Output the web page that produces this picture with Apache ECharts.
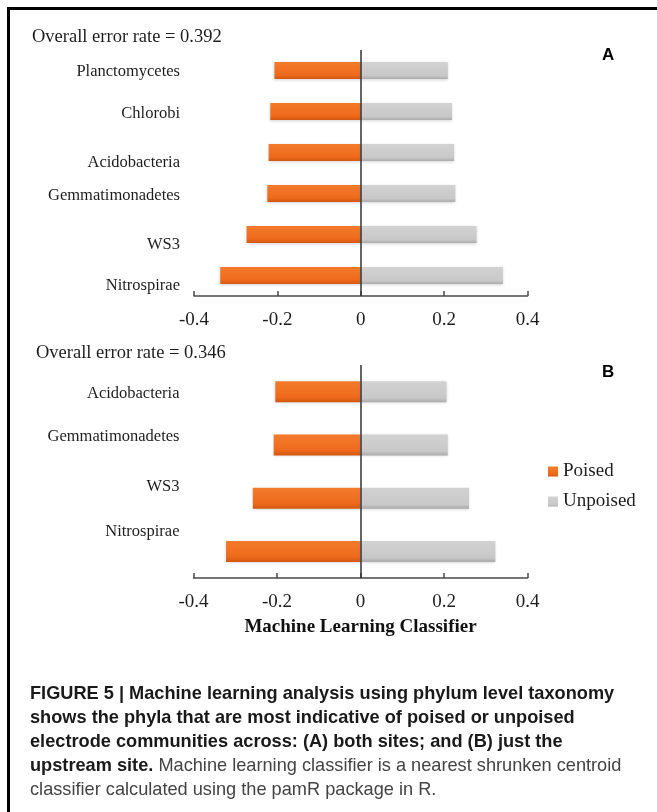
<!DOCTYPE html>
<html>
<head>
<meta charset="utf-8">
<script src="https://cdn.jsdelivr.net/npm/echarts@6/dist/echarts.min.js"></script>
<style>
  body { margin: 0; background: #fff; }
  .figure { position: relative; width: 657px; height: 812px; overflow: hidden; }
  #chart { position: absolute; left: 0; top: 0; width: 657px; height: 812px; }
  .frame { position: absolute; left: 7px; top: 7px; width: 700px; height: 900px; border-top: 3px solid #000; border-left: 3px solid #000; pointer-events: none; }
  .caption { position: absolute; left: 30px; top: 681px; font-family: "Liberation Sans", Arial, sans-serif; font-size: 18.2px; line-height: 24px; color: #444; white-space: nowrap; }
  .caption b { color: #1a1a1a; }
</style>
</head>
<body>
<div class="figure">
  <div id="chart"></div>
  <div class="frame"></div>
  <div class="caption">
    <b>FIGURE 5 | Machine learning analysis using phylum level taxonomy</b><br>
    <b>shows the phyla that are most indicative of poised or unpoised</b><br>
    <b>electrode communities across: (A) both sites; and (B) just the</b><br>
    <b>upstream site.</b> Machine learning classifier is a nearest shrunken centroid<br>
    classifier calculated using the pamR package in R.
  </div>
</div>
<script>
  // panel A: both sites
  const phylaA = ['Planctomycetes', 'Chlorobi', 'Acidobacteria', 'Gemmatimonadetes', 'WS3', 'Nitrospirae']
  const poisedA = [-0.207, -0.217, -0.221, -0.224, -0.274, -0.337]
  const unpoisedA = [0.209, 0.219, 0.224, 0.227, 0.278, 0.341]
  // panel B: upstream site
  const phylaB = ['Acidobacteria', 'Gemmatimonadetes', 'WS3', 'Nitrospirae']
  const poisedB = [-0.204, -0.208, -0.258, -0.322]
  const unpoisedB = [0.206, 0.209, 0.260, 0.323]
  const xTicks = [-0.4, -0.2, 0, 0.2, 0.4]
  const errorRates = ['0.392', '0.346']
  const seriesNames = ['Poised', 'Unpoised']

  // label drift of the original layout (px, + is down)
  const nudgeA = [1.5, 2, 10, 2, 10, 10]
  const nudgeB = [2, -8.5, -11, -20]

  const serif = '"Liberation Serif", "Times New Roman", serif'
  const ink = '#1e1e1e'

  function richFor (nudge) {
    const rich = {}
    nudge.forEach((d, i) => {
      rich['n' + i] = {
        fontFamily: serif,
        fontSize: 16.5,
        color: ink,
        padding: d >= 0 ? [2 * d, 0, 0, 0] : [0, 0, -2 * d, 0]
      }
    })
    return rich
  }

  const orange = new echarts.graphic.LinearGradient(0, 0, 0, 1, [
    { offset: 0, color: '#F47B2C' },
    { offset: 0.75, color: '#EE6A1C' },
    { offset: 1, color: '#D2570F' }
  ])
  const grey = new echarts.graphic.LinearGradient(0, 0, 0, 1, [
    { offset: 0, color: '#D2D2D2' },
    { offset: 0.8, color: '#C8C8C8' },
    { offset: 1, color: '#ABABAB' }
  ])

  function valueAxis (gridIndex, withName) {
    const axis = {
      type: 'value',
      gridIndex: gridIndex,
      min: xTicks[0],
      max: xTicks[xTicks.length - 1],
      interval: xTicks[1] - xTicks[0],
      axisLine: { show: true, lineStyle: { color: '#4a4a4a', width: 1.5 } },
      axisTick: { show: true, inside: true, length: 5, lineStyle: { color: '#4a4a4a', width: 1.5 } },
      splitLine: { show: false },
      axisLabel: { fontFamily: serif, fontSize: 19, color: ink, margin: 15 }
    }
    if (withName) {
      axis.name = 'Machine Learning Classifier'
      axis.nameLocation = 'middle'
      axis.nameGap = 40
      axis.nameTextStyle = { fontFamily: serif, fontSize: 19, fontWeight: 'bold', color: '#111' }
    }
    return axis
  }

  function categoryAxis (gridIndex, cats, nudge) {
    return {
      type: 'category',
      gridIndex: gridIndex,
      data: cats,
      inverse: true,
      axisLine: { show: false },
      axisTick: { show: false },
      axisLabel: {
        interval: 0,
        margin: 14,
        formatter: (v, i) => '{n' + i + '|' + v + '}',
        rich: richFor(nudge)
      }
    }
  }

  function bars (name, data, idx, color, withZeroLine) {
    const s = {
      name: name,
      type: 'bar',
      xAxisIndex: idx,
      yAxisIndex: idx,
      stack: 'p' + idx,
      data: data,
      barWidth: idx === 0 ? 17 : 21,
      itemStyle: {
        color: color,
        shadowColor: 'rgba(0,0,0,0.18)',
        shadowBlur: 3,
        shadowOffsetY: 1
      }
    }
    if (withZeroLine) {
      s.markLine = {
        silent: true,
        symbol: 'none',
        label: { show: false },
        lineStyle: { color: '#333', width: 1.5, type: 'solid' },
        data: [{ xAxis: 0 }]
      }
    }
    return s
  }

  const chart = echarts.init(document.getElementById('chart'), null, { renderer: 'canvas' })
  const option = {
    backgroundColor: 'transparent',
    animation: false,
    title: [
      { text: 'Overall error rate = ' + errorRates[0], left: 32, top: 28, padding: 0,
        textStyle: { fontFamily: serif, fontSize: 18.5, fontWeight: 'normal', color: ink } },
      { text: 'Overall error rate = ' + errorRates[1], left: 36, top: 344, padding: 0,
        textStyle: { fontFamily: serif, fontSize: 18.5, fontWeight: 'normal', color: ink } },
      { text: 'A', left: 602, top: 47, padding: 0,
        textStyle: { fontFamily: '"Liberation Sans", Arial, sans-serif', fontSize: 17, fontWeight: 'bold', color: '#000' } },
      { text: 'B', left: 602, top: 364, padding: 0,
        textStyle: { fontFamily: '"Liberation Sans", Arial, sans-serif', fontSize: 17, fontWeight: 'bold', color: '#000' } }
    ],
    legend: {
      data: seriesNames,
      orient: 'vertical',
      left: 548,
      top: 462,
      padding: 0,
      icon: 'rect',
      itemWidth: 10,
      itemHeight: 10,
      itemGap: 11,
      textStyle: { fontFamily: serif, fontSize: 19, color: ink }
    },
    grid: [
      { left: 194, top: 50, width: 333.5, height: 246, outerBoundsMode: 'none' },
      { left: 193.5, top: 365, width: 334, height: 213, outerBoundsMode: 'none' }
    ],
    xAxis: [valueAxis(0, false), valueAxis(1, true)],
    yAxis: [categoryAxis(0, phylaA, nudgeA), categoryAxis(1, phylaB, nudgeB)],
    series: [
      bars(seriesNames[0], poisedA, 0, orange, true),
      bars(seriesNames[1], unpoisedA, 0, grey, false),
      bars(seriesNames[0], poisedB, 1, orange, true),
      bars(seriesNames[1], unpoisedB, 1, grey, false)
    ]
  }
  chart.setOption(option)
</script>
</body>
</html>
